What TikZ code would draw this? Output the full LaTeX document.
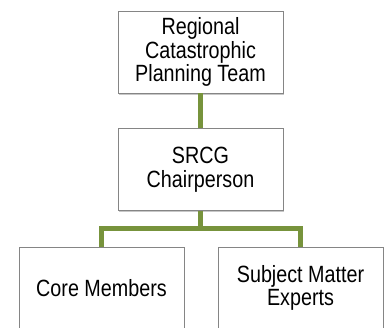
\documentclass[tikz,border=0pt]{standalone}
\usepackage{fontspec}
\setmainfont[FakeStretch=0.84]{Liberation Sans}
\usepackage{tikz}
\usetikzlibrary{shadows}
\definecolor{linkgreen}{HTML}{77933C}
\definecolor{boxgray}{HTML}{858585}
\tikzset{orgbox/.style={draw=boxgray, line width=0.8pt, fill=white,
    minimum width=165pt, minimum height=82pt, inner sep=2pt, align=center,
    font=\fontsize{23.5}{23.5}\selectfont,
    drop shadow={shadow xshift=1.2pt, shadow yshift=-2pt, fill=black, opacity=0.22}},
  orglink/.style={draw=linkgreen, line width=5pt}
}

\begin{document}
\begin{tikzpicture}[x=1pt,y=1pt]
                \useasboundingbox (0,0) rectangle (384,328);
                \begin{scope}
                \clip (0,0) rectangle (384,328);

                % Boxes
                \node[orgbox] (team) at (200.5,276) {Regional\\Catastrophic\\Planning Team};
                \node[orgbox] (chair) at (200.5,158.5) {SRCG\\Chairperson};
                \node[orgbox] (core) at (101.5,40) {Core Members};
                \node[orgbox] (sme) at (300.5,40) {Subject Matter\\Experts};

                % Links
                \coordinate (fork) at (200.5,99);
                \draw[orglink] (team.south) -- (chair.north);
                \draw[orglink] (chair.south) -- (fork) -| (core.north);
                \draw[orglink] (fork) -| (sme.north);
                \end{scope}
            \end{tikzpicture}
\end{document}
